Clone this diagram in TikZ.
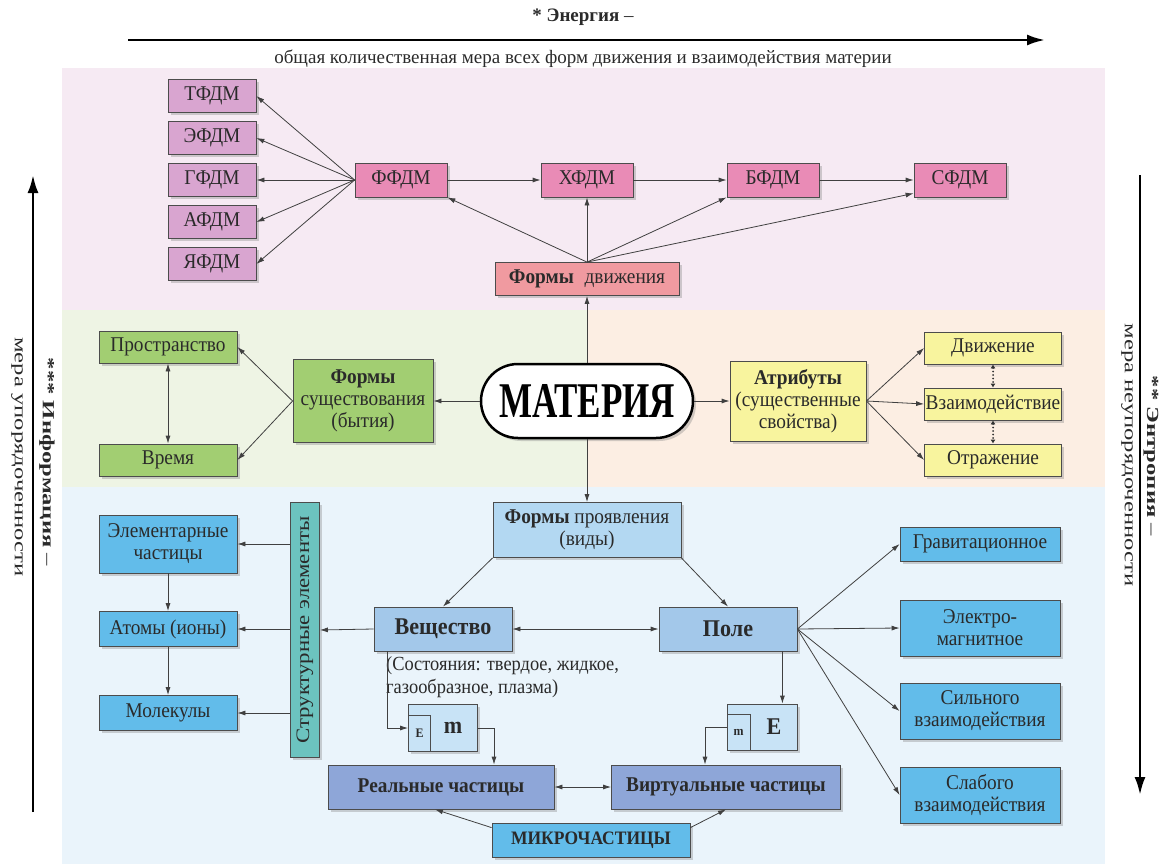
\documentclass[tikz,border=0pt]{standalone}
\usepackage{fontspec}
\setmainfont{Liberation Serif}
\newfontfamily\boxfont{Liberation Serif}[FakeStretch=0.92]
\newfontfamily\matfont{Liberation Serif}[FakeStretch=0.7]
\newfontfamily\sidefont{Liberation Serif}[FakeStretch=1.2]
\newfontfamily\edgefont{Liberation Serif}[FakeStretch=1.45]
\usetikzlibrary{arrows.meta,shadows,shapes.misc,positioning}

\definecolor{bgpink}{HTML}{F6EAF3}
\definecolor{bggreen}{HTML}{EEF4E4}
\definecolor{bgpeach}{HTML}{FCEEE3}
\definecolor{bgblue}{HTML}{EAF4FB}
\definecolor{lilac}{HTML}{D9A5D0}
\definecolor{rose}{HTML}{E98BB6}
\definecolor{salmon}{HTML}{F09AA0}
\definecolor{leaf}{HTML}{A2CE72}
\definecolor{lemon}{HTML}{F8F49E}
\definecolor{sky}{HTML}{62BCEA}
\definecolor{pale}{HTML}{B3D8F2}
\definecolor{midblue}{HTML}{A3C8EA}
\definecolor{peri}{HTML}{8EA6D8}
\definecolor{structc}{HTML}{6CC3BF}
\definecolor{iceb}{HTML}{C8E3F6}
\definecolor{ink}{HTML}{2A2A2A}

\tikzset{
  box/.style={draw=black!70, line width=0.8pt, text=ink, align=center, inner sep=1pt,
    font=\boxfont\fontsize{21}{22}\selectfont,
    drop shadow={shadow xshift=2.5pt, shadow yshift=-2.5pt, opacity=0.35}},
  lilacbox/.style={box, fill=lilac, minimum width=88, minimum height=33},
  rosebox/.style={box, fill=rose, minimum width=92, minimum height=34},
  salmonbox/.style={box, fill=salmon, minimum height=33},
  leafbox/.style={box, fill=leaf},
  lemonbox/.style={box, fill=lemon},
  skybox/.style={box, fill=sky},
  palebox/.style={box, fill=pale},
  midbox/.style={box, fill=midblue, minimum width=138, minimum height=44,
    font=\boxfont\bfseries\fontsize{24}{26}\selectfont},
  peribox/.style={box, fill=peri, minimum height=44,
    font=\boxfont\bfseries\fontsize{21}{22}\selectfont},
  structbox/.style={box, fill=structc, font=\sidefont\fontsize{19}{21}\selectfont},
  emouter/.style={box, fill=iceb},
  eminner/.style={draw=black!70, line width=0.8pt, fill=iceb, inner sep=0pt, text=ink,
    minimum width=22, minimum height=36, anchor=south west,
    font=\boxfont\bfseries\fontsize{13}{13}\selectfont},
  embig/.style={text=ink, inner sep=0pt, font=\boxfont\bfseries\fontsize{24}{24}\selectfont},
  materia/.style={rounded rectangle, draw=black, line width=2.5pt, fill=white,
    minimum width=212, minimum height=74, inner sep=0pt,
    font=\matfont\bfseries\fontsize{50}{50}\selectfont,
    drop shadow={shadow xshift=3pt, shadow yshift=-3pt, opacity=0.35}},
  arr/.style={draw=black!75, line width=0.8pt, -{Latex[length=8pt,width=5pt]}},
  dbl/.style={draw=black!75, line width=0.8pt, {Latex[length=8pt,width=5pt]}-{Latex[length=8pt,width=5pt]}},
  dots/.style={draw=black!80, line width=2pt, line cap=round, dash pattern=on 0pt off 3.5pt,
    {Latex[length=4pt,width=5pt]}-{Latex[length=4pt,width=5pt]}},
  bigarr/.style={line width=2.6pt, -{Latex[length=18pt,width=11pt]}},
  sidetext/.style={inner sep=0pt, text=ink, font=\edgefont\fontsize{17}{19}\selectfont},
  toptext/.style={inner sep=0pt, text=ink, font=\fontsize{19}{21}\selectfont}
}

\begin{document}
\begin{tikzpicture}[x=1pt,y=-1pt]
    \useasboundingbox (0,0) rectangle (1161,864);
    \fill[bgpink] (62,68) rectangle (1105,310);
    \fill[bggreen] (62,310) rectangle (587,487);
    \fill[bgpeach] (587,310) rectangle (1105,487);
    \fill[bgblue] (62,487) rectangle (1105,864);

    \coordinate (en0) at (128,40);
    \coordinate (en1) at (1045,40);
    \draw[bigarr] (en0) -- (en1);
    \node[toptext] (entitle) at (583,17) {\textbf{* Энергия} –};
    \node[toptext] (ensub) at (583,59) {общая количественная мера всех форм движения и взаимодействия материи};

    \coordinate (in0) at (33,812);
    \coordinate (in1) at (33,175);
    \draw[bigarr] (in0) -- (in1);
    \node[sidetext, rotate=-90] (intitle) at (47,462) {\textbf{*** Информация} –};
    \node[sidetext, rotate=-90] (insub) at (17,457) {мера упорядоченности};

    \coordinate (et0) at (1140,175);
    \coordinate (et1) at (1140,795);
    \draw[bigarr] (et0) -- (et1);
    \node[sidetext, rotate=-90] (ettitle) at (1151,456) {\textbf{** Энтропия} –};
    \node[sidetext, rotate=-90] (etsub) at (1127,455) {мера неупорядоченности};

    \node[lilacbox] (tfdm) at (212,96) {ТФДМ};
    \node[lilacbox] (efdm) at (212,138) {ЭФДМ};
    \node[lilacbox] (gfdm) at (212,180) {ГФДМ};
    \node[lilacbox] (afdm) at (212,222) {АФДМ};
    \node[lilacbox] (yafdm) at (212,264) {ЯФДМ};
    \node[rosebox] (ffdm) at (401,180) {ФФДМ};
    \node[rosebox] (hfdm) at (587,180) {ХФДМ};
    \node[rosebox] (bfdm) at (773,180) {БФДМ};
    \node[rosebox] (sfdm) at (960,180) {СФДМ};
    \node[salmonbox, minimum width=184] (dvizh) at (587,279) {\textbf{Формы}\; движения};

    \draw[arr] (ffdm.west) -- (tfdm.east);
    \draw[arr] (ffdm.west) -- (efdm.east);
    \draw[arr] (ffdm.west) -- (gfdm.east);
    \draw[arr] (ffdm.west) -- (afdm.east);
    \draw[arr] (ffdm.west) -- (yafdm.east);
    \draw[arr] (ffdm) -- (hfdm);
    \draw[arr] (hfdm) -- (bfdm);
    \draw[arr] (bfdm) -- (sfdm);
    \draw[arr] (dvizh.north) -- (ffdm.south east);
    \draw[arr] (dvizh.north) -- (hfdm.south);
    \draw[arr] (dvizh.north) -- (bfdm.south west);
    \draw[arr] (dvizh.north) -- ([yshift=4]sfdm.south west);

    \node[materia] (mat) at (587,401) {МАТЕРИЯ};
    \node[leafbox, minimum width=140, minimum height=83] (sush) at (363,401) {\textbf{Формы}\\существования\\(бытия)};
    \node[leafbox, minimum width=138, minimum height=32] (prostr) at (168,347) {Пространство};
    \node[leafbox, minimum width=138, minimum height=32] (vremya) at (168,460) {Время};
    \node[lemonbox, minimum width=136, minimum height=80] (attr) at (798,401) {\textbf{Атрибуты}\\(существенные\\свойства)};
    \node[lemonbox, minimum width=137, minimum height=32] (dvizhenie) at (993,348) {Движение};
    \node[lemonbox, minimum width=137, minimum height=32] (vzaim) at (993,404) {Взаимодействие};
    \node[lemonbox, minimum width=137, minimum height=32] (otraz) at (993,460) {Отражение};

    \draw[arr] (mat.north) -- (dvizh.south);
    \draw[arr] (mat.west) -- (sush.east);
    \draw[arr] (mat.east) -- (attr.west);
    \draw[arr] (sush.west) -- (prostr.east);
    \draw[arr] (sush.west) -- (vremya.east);
    \draw[dbl] (prostr.south) -- (vremya.north);
    \draw[arr] (attr.east) -- (dvizhenie.west);
    \draw[arr] (attr.east) -- (vzaim.west);
    \draw[arr] (attr.east) -- (otraz.west);
    \draw[dots] (dvizhenie.south) -- (vzaim.north);
    \draw[dots] (vzaim.south) -- (otraz.north);

    \node[palebox, minimum width=188, minimum height=55] (proyav) at (587,530) {\textbf{Формы} проявления\\(виды)};
    \node[midbox] (veshch) at (443,629) {Вещество};
    \node[midbox] (pole) at (728,629) {Поле};
    \node[structbox, rotate=90, minimum width=255, minimum height=29] (struct) at (305,630) {Структурные элементы};
    \node[skybox, minimum width=138, minimum height=58] (elem) at (168,544) {Элементарные\\частицы};
    \node[skybox, minimum width=138, minimum height=35] (atomy) at (168,629) {Атомы (ионы)};
    \node[skybox, minimum width=138, minimum height=35] (molek) at (168,713) {Молекулы};
    \node[skybox, minimum width=160, minimum height=34] (grav) at (980,544) {Гравитационное};
    \node[skybox, minimum width=160, minimum height=56] (elmag) at (980,628) {Электро-\\магнитное};
    \node[skybox, minimum width=160, minimum height=56] (silnoe) at (980,711) {Сильного\\взаимодействия};
    \node[skybox, minimum width=160, minimum height=56] (slaboe) at (980,795) {Слабого\\взаимодействия};
    \node[anchor=west, align=left, inner sep=0pt, text=ink, font=\boxfont\fontsize{20}{23}\selectfont] (sost) at (386,677) {(Состояния: твердое, жидкое,\\газообразное, плазма)};

    \node[emouter, minimum width=69, minimum height=47] (em) at (443,728) {};
    \node[eminner] (em-e) at (em.south west) {E};
    \node[embig] (em-m) at ([xshift=10]em.center) {m};
    \node[emouter, minimum width=70, minimum height=46] (me) at (762,727) {};
    \node[eminner, minimum width=23] (me-m) at (me.south west) {m};
    \node[embig] (me-e) at ([xshift=12]me.center) {E};

    \node[peribox, minimum width=226] (real) at (441,787) {Реальные частицы};
    \node[peribox, minimum width=229] (virt) at (726,787) {Виртуальные частицы};
    \node[skybox, minimum width=198, minimum height=34, font=\boxfont\bfseries\fontsize{19}{21}\selectfont] (mikro) at (591,840) {МИКРОЧАСТИЦЫ};

    \draw[arr] (mat.south) -- (proyav.north);
    \draw[arr] (proyav.south west) -- (veshch.north);
    \draw[arr] (proyav.south east) -- (pole.north);
    \draw[dbl] (veshch) -- (pole);
    \draw[arr] (veshch.west) -- (struct.south);
    \draw[arr] (struct.north |- elem) -- (elem.east);
    \draw[arr] (struct.north |- atomy) -- (atomy.east);
    \draw[arr] (struct.north |- molek) -- (molek.east);
    \draw[arr] (elem.south) -- (atomy.north);
    \draw[arr] (atomy.south) -- (molek.north);
    \draw[arr] (pole.east) -- (grav.west);
    \draw[arr] (pole.east) -- (elmag.west);
    \draw[arr] (pole.east) -- (silnoe.west);
    \draw[arr] (pole.east) -- (slaboe.west);
    \draw[arr] ([xshift=14]veshch.south west) |- (em.west);
    \draw[arr] (em.east) -| ([xshift=53]real.north);
    \draw[arr] ([xshift=-15]pole.south east) -- ([xshift=-15]me.north east);
    \draw[arr] (me.west) -| ([xshift=-21]virt.north);
    \draw[dbl] (real) -- (virt);
    \draw[arr] ([yshift=-5]mikro.north west) -- ([xshift=-6]real.south);
    \draw[arr] ([yshift=-5]mikro.north east) -- (virt.south);
\end{tikzpicture}
\end{document}
